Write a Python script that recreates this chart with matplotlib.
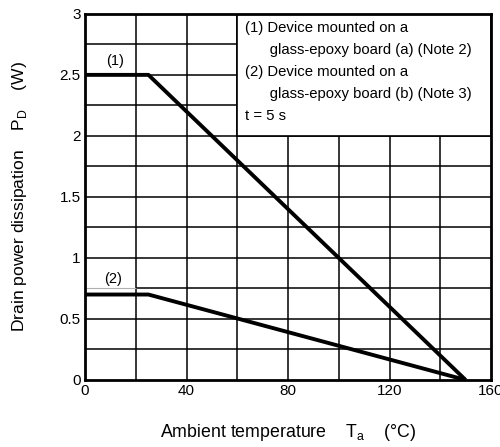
import matplotlib
matplotlib.use("Agg")
import matplotlib.pyplot as plt
from matplotlib.patches import Rectangle

plt.rcParams["font.family"] = ["Liberation Sans", "DejaVu Sans"]

# curve (1): board (a), curve (2): board (b)
ta_1 = [0, 25, 150]
pd_1 = [2.5, 2.5, 0]
ta_2 = [0, 25, 150]
pd_2 = [0.7, 0.7, 0]

x_ticks = [0, 40, 80, 120, 160]
y_ticks = [0, 0.5, 1, 1.5, 2, 2.5, 3]
y_tick_labels = ["0", "0.5", "1", "1.5", "2", "2.5", "3"]
x_grid = [20, 40, 60, 80, 100, 120, 140]
y_grid = [0.25, 0.5, 1, 1.25, 1.5, 1.75, 2, 2.25, 2.5, 2.75]

note_lines = [
    "(1) Device mounted on a",
    "      glass-epoxy board (a) (Note 2)",
    "(2) Device mounted on a",
    "      glass-epoxy board (b) (Note 3)",
    "t = 5 s",
]

fig = plt.figure(figsize=(5.0, 4.47), dpi=100)
ax = fig.add_axes([0.17, 0.15, 0.812, 0.819])

for gx in x_grid:
    ax.axvline(gx, color="black", lw=1.1, zorder=1)
for gy in y_grid:
    ax.axhline(gy, color="black", lw=1.1, zorder=1)
# the 0.75 line fades out under the "(2)" label
ax.hlines(0.75, 20, 160, color="black", lw=1.1, zorder=1)
ax.hlines(0.75, 0, 20, color="#b0b0b0", lw=0.8, zorder=1)

ax.plot(ta_1, pd_1, color="black", lw=2.8, zorder=3, solid_capstyle="butt")
ax.plot(ta_2, pd_2, color="black", lw=2.8, zorder=3, solid_capstyle="butt")

ax.text(12, 2.56, "(1)", fontsize=10.5, ha="center", va="bottom", zorder=4)
ax.text(11, 0.77, "(2)", fontsize=10.5, ha="center", va="bottom", zorder=4)

# note box in the upper right
ax.add_patch(Rectangle((60, 2.0), 100, 1.0, facecolor="white",
                       edgecolor="black", lw=1.2, zorder=4))
for i, line in enumerate(note_lines):
    ax.text(63, 2.94 - i * 0.18, line, fontsize=10.7, va="top", ha="left", zorder=5)

ax.set_xlim(0, 160)
ax.set_ylim(0, 3)
ax.set_xticks(x_ticks)
ax.set_yticks(y_ticks)
ax.set_yticklabels(y_tick_labels)
ax.tick_params(length=0, labelsize=11, pad=3)
for s in ax.spines.values():
    s.set_linewidth(2)
    s.set_zorder(6)

fig.text(0.576, 0.033, "Ambient temperature    T$_\\mathregular{a}$    (°C)",
         fontsize=12.8, ha="center", va="center")
fig.text(0.04, 0.56, "Drain power dissipation    P$_\\mathregular{D}$    (W)",
         fontsize=12.6, ha="center", va="center", rotation=90)

fig.savefig("out.png", dpi=100)
